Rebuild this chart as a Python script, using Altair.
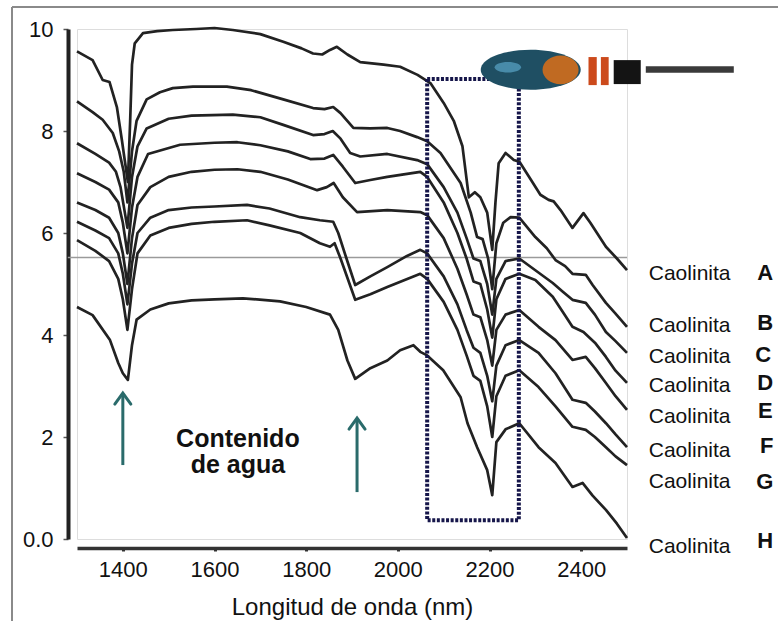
import altair as alt
import pandas as pd

# ---------------- data ----------------
series_names = ["A", "B", "C", "D", "E", "F", "G", "H"]

wl_A = [1300,1334,1356,1371,1387,1398,1403,1411,1416,1420,1426,1444,1475,1509,1560,1600,1640,1700,1750,1790,1815,1835,1852,1867,1890,1918,1969,2005,2043,2071,2100,2122,2141,2155,2168,2180,2195,2206,2213,2220,2235,2253,2265,2290,2311,2329,2340,2355,2381,2405,2420,2454,2478,2500]
rf_A = [9.56,9.39,9.0,8.96,8.47,7.82,7.5,7.0,8.2,9.3,9.72,9.92,9.96,9.98,10.0,10.02,9.98,9.9,9.75,9.62,9.52,9.5,9.59,9.65,9.5,9.35,9.3,9.26,9.1,8.94,8.55,8.2,7.7,6.7,6.8,6.7,6.4,5.67,6.6,7.37,7.57,7.43,7.4,7.05,6.75,6.65,6.62,6.45,6.1,6.39,6.2,5.73,5.5,5.27]

wl_B = [1300,1334,1356,1378,1392,1402,1410,1420,1430,1452,1481,1509,1553,1627,1680,1750,1815,1840,1859,1875,1903,1940,1977,2005,2042,2064,2093,2137,2159,2173,2185,2197,2206,2215,2230,2246,2265,2300,2325,2344,2365,2381,2410,2425,2454,2475,2500]
rf_B = [8.58,8.37,8.22,7.96,7.6,7.2,6.6,7.6,8.2,8.62,8.76,8.84,8.87,8.87,8.8,8.62,8.45,8.43,8.47,8.35,8.06,8.05,8.06,8.0,7.88,7.8,7.57,6.98,6.4,5.92,5.88,5.5,4.9,5.8,6.2,6.31,6.3,5.92,5.7,5.47,5.35,5.2,5.18,4.98,4.63,4.42,4.16]

wl_C = [1300,1340,1370,1385,1395,1410,1420,1432,1452,1500,1550,1640,1700,1750,1815,1840,1858,1875,1896,1918,1977,2042,2064,2100,2130,2150,2165,2180,2195,2206,2215,2235,2265,2300,2338,2360,2381,2410,2430,2454,2475,2500]
rf_C = [7.76,7.55,7.38,7.2,6.9,6.1,7.1,7.7,8.05,8.24,8.3,8.32,8.27,8.12,7.92,7.94,8.0,7.85,7.57,7.5,7.55,7.43,7.35,6.9,6.4,5.9,5.5,5.45,5.0,4.4,5.1,5.45,5.5,5.27,5.02,4.85,4.69,4.63,4.4,4.06,3.88,3.65]

wl_D = [1300,1340,1370,1390,1400,1410,1420,1432,1455,1525,1600,1650,1700,1760,1809,1840,1859,1880,1907,1940,1977,2049,2064,2100,2130,2150,2165,2180,2195,2206,2215,2235,2265,2300,2338,2360,2381,2405,2430,2454,2475,2500]
rf_D = [7.17,7.0,6.85,6.6,6.2,5.6,6.5,7.1,7.55,7.73,7.77,7.78,7.72,7.6,7.45,7.46,7.53,7.3,6.98,7.04,7.1,7.2,7.1,6.6,6.0,5.5,5.05,5.0,4.5,3.95,4.7,5.1,5.2,5.08,4.75,4.45,4.16,4.06,3.85,3.57,3.3,3.06]

wl_E = [1300,1340,1370,1390,1400,1410,1420,1432,1460,1500,1550,1600,1650,1700,1760,1824,1845,1860,1880,1911,1977,2049,2064,2100,2130,2150,2165,2180,2195,2206,2215,2235,2265,2307,2344,2381,2410,2430,2454,2475,2500]
rf_E = [6.6,6.45,6.3,6.0,5.6,5.0,5.9,6.55,6.9,7.1,7.2,7.24,7.25,7.2,7.05,6.84,6.9,6.98,6.7,6.41,6.45,6.41,6.35,5.9,5.3,4.8,4.4,4.35,3.9,3.4,4.1,4.4,4.49,4.16,3.9,3.51,3.57,3.35,3.06,2.8,2.53]

wl_F = [1300,1340,1370,1390,1400,1410,1420,1432,1460,1500,1550,1600,1671,1720,1787,1830,1859,1870,1889,1907,1940,1977,2020,2049,2064,2100,2130,2150,2165,2180,2195,2206,2215,2235,2265,2307,2344,2381,2410,2430,2454,2475,2500]
rf_F = [6.22,6.05,5.9,5.6,5.2,4.6,5.4,6.0,6.3,6.45,6.5,6.52,6.55,6.48,6.31,6.25,6.22,6.0,5.47,4.98,5.15,5.33,5.55,5.67,5.6,5.15,4.6,4.1,3.75,3.65,3.2,2.7,3.4,3.8,3.9,3.65,3.25,2.73,2.67,2.5,2.27,2.05,1.8]

wl_G = [1300,1340,1370,1390,1400,1410,1420,1432,1460,1500,1550,1600,1671,1720,1787,1830,1852,1862,1875,1907,1940,1977,2049,2064,2100,2130,2150,2165,2180,2195,2206,2215,2235,2265,2307,2344,2381,2410,2430,2454,2475,2500]
rf_G = [5.86,5.65,5.45,5.1,4.7,4.1,4.9,5.6,5.95,6.1,6.18,6.22,6.25,6.15,6.0,5.8,5.73,5.8,5.5,4.69,4.8,4.94,5.2,5.1,4.65,4.1,3.6,3.2,3.1,2.6,2.0,2.8,3.2,3.31,2.98,2.6,2.2,2.14,2.0,1.8,1.62,1.45]

wl_H = [1300,1334,1372,1390,1400,1411,1420,1430,1460,1500,1550,1600,1662,1743,1800,1852,1870,1890,1907,1940,1977,2005,2034,2049,2064,2099,2137,2152,2173,2195,2206,2215,2235,2265,2307,2344,2381,2403,2425,2454,2478,2500]
rf_H = [4.55,4.39,3.9,3.45,3.25,3.12,3.8,4.3,4.5,4.62,4.68,4.7,4.72,4.66,4.55,4.4,4.1,3.5,3.14,3.35,3.5,3.7,3.8,3.67,3.6,3.31,2.78,2.27,1.8,1.35,0.86,1.9,2.15,2.27,1.8,1.49,1.02,1.1,0.85,0.57,0.3,0.02]

series_wl = [wl_A, wl_B, wl_C, wl_D, wl_E, wl_F, wl_G, wl_H]
series_rf = [rf_A, rf_B, rf_C, rf_D, rf_E, rf_F, rf_G, rf_H]

x_ticks = [1400, 1600, 1800, 2000, 2200, 2400]
y_ticks = [0, 2, 4, 6, 8, 10]

# reference horizontal line
ref_wl = [1280]
ref_wl2 = [2500]
ref_v = [5.52]

# dotted box (kaolinite doublet region)
box_wl = [2064]
box_wl2 = [2264]
box_v = [0.37]
box_v2 = [9.02]

# water arrows
arrow_wl = [1400, 1911]
arrow_from = [1.45, 0.92]
arrow_to = [2.86, 2.37]

# annotation text
note_wl = [1651, 1651]
note_v = [1.80, 1.29]
note_text = ["Contenido", "de agua"]

# right-hand labels
caol_wl = [2547.5] * 8
caol_v = [5.08, 4.06, 3.45, 2.88, 2.27, 1.61, 1.0, -0.27]
letter_wl = [2784, 2784, 2780, 2784, 2786, 2790, 2782, 2784]
letter_v = [5.08, 4.1, 3.47, 2.92, 2.37, 1.69, 0.98, -0.18]

# logo pieces
logo_oval_wl = [2290]
logo_oval_v = [9.2]
logo_orange_wl = [2355]
logo_orange_v = [9.2]
logo_hi_wl = [2240]
logo_hi_v = [9.25]
logo_bar_wl = [2416, 2443, 2471, 2541]
logo_bar_wl2 = [2434, 2460, 2530, 2733]
logo_bar_v = [8.9, 8.9, 8.92, 9.14]
logo_bar_v2 = [9.45, 9.45, 9.39, 9.27]
logo_bar_col = ["#cc4a1c", "#cc4a1c", "#141414", "#3a3a3a"]

# ---------------- tables ----------------
rows = []
for name, wls, rfs in zip(series_names, series_wl, series_rf):
    for i, (w, r) in enumerate(zip(wls, rfs)):
        rows.append({"wl": w, "v": r, "serie": name, "ord": i})
curves_df = pd.DataFrame(rows)

FONT = "Liberation Sans"
INK = "#111111"

xscale = alt.Scale(domain=[1300, 2500], nice=False, zero=False)
yscale = alt.Scale(domain=[0, 10], nice=False, zero=False)

xaxis = alt.Axis(values=x_ticks, format="d", title="Longitud de onda (nm)",
                 titleFontSize=24, titleFontWeight="normal", titleColor=INK,
                 titleFont=FONT, titleBaseline="alphabetic", titleY=66,
                 labelFont=FONT, labelFontSize=22, labelColor=INK,
                 labelBaseline="alphabetic", labelPadding=25,
                 tickSize=3, tickWidth=3, tickColor="#333333",
                 domainColor="#333333", domainWidth=3.5, offset=9,
                 grid=False, labelFlush=False, labelOverlap=False)
yaxis = alt.Axis(values=y_ticks, labelExpr="datum.value == 0 ? '0.0' : datum.label",
                 title=None, labelFont=FONT, labelFontSize=22, labelColor=INK,
                 labelPadding=10, tickSize=5, tickWidth=1.5, tickColor="#555555",
                 domainColor="#222222", domainWidth=4, offset=9, grid=False)

X = alt.X("wl:Q", scale=xscale, axis=xaxis)
Y = alt.Y("v:Q", scale=yscale, axis=yaxis)

one = pd.DataFrame({"k": [0]})

frame_top = alt.Chart(one).mark_rule(color="#8a8a8a", strokeWidth=2).encode(
    x=alt.value(-65), x2=alt.value(701), y=alt.value(-22))
frame_left = alt.Chart(one).mark_rule(color="#8a8a8a", strokeWidth=2).encode(
    x=alt.value(-65), y=alt.value(-22), y2=alt.value(592))

ref_line = alt.Chart(pd.DataFrame({"wl": ref_wl, "wl2": ref_wl2, "v": ref_v})).mark_rule(
    color="#9a9a9a", strokeWidth=1.5).encode(x=X, x2="wl2:Q", y=Y)

curves = alt.Chart(curves_df).mark_line(color="#222222", strokeWidth=2.7,
                                        strokeJoin="round").encode(
    x=X, y=Y, detail="serie:N", order="ord:Q")

box = alt.Chart(pd.DataFrame({"wl": box_wl, "wl2": box_wl2, "v": box_v, "v2": box_v2})).mark_rect(
    fillOpacity=0, stroke="#16164a", strokeWidth=4, strokeDash=[3, 1.6]).encode(
    x=X, x2="wl2:Q", y=Y, y2="v2:Q")

arrows_df = pd.DataFrame({"wl": arrow_wl, "v": arrow_from, "v2": arrow_to})
TEAL = "#2a6b6b"
arrow_shaft = alt.Chart(arrows_df).mark_rule(color=TEAL, strokeWidth=3).encode(
    x=X, y=Y, y2="v2:Q")
arrow_head = alt.Chart(pd.DataFrame({"wl": arrow_wl, "v": arrow_to})).mark_point(
    shape="M-0.4,0.55L0,0L0.4,0.55", filled=False, size=1600, stroke=TEAL,
    strokeWidth=3, opacity=1, strokeCap="round").encode(x=X, y=Y)

notes = alt.Chart(pd.DataFrame({"wl": note_wl, "v": note_v, "t": note_text})).mark_text(
    font=FONT, fontSize=25, fontWeight="bold", color=INK, align="center",
    baseline="alphabetic").encode(x=X, y=Y, text="t:N")

caol = alt.Chart(pd.DataFrame({"wl": caol_wl, "v": caol_v, "t": ["Caolinita"] * 8})).mark_text(
    font=FONT, fontSize=21, color=INK, align="left", baseline="alphabetic").encode(
    x=X, y=Y, text="t:N")
letters = alt.Chart(pd.DataFrame({"wl": letter_wl, "v": letter_v, "t": series_names})).mark_text(
    font=FONT, fontSize=22, fontWeight="bold", color=INK, align="left",
    baseline="alphabetic").encode(x=X, y=Y, text="t:N")

ELLIPSE = "M-1,0C-1,-0.22,-0.55,-0.4,0,-0.4C0.55,-0.4,1,-0.22,1,0C1,0.22,0.55,0.4,0,0.4C-0.55,0.4,-1,0.22,-1,0Z"
ELLIPSE2 = "M-1,0C-1,-0.44,-0.55,-0.8,0,-0.8C0.55,-0.8,1,-0.44,1,0C1,0.44,0.55,0.8,0,0.8C-0.55,0.8,-1,0.44,-1,0Z"
logo_oval = alt.Chart(pd.DataFrame({"wl": logo_oval_wl, "v": logo_oval_v})).mark_point(
    shape=ELLIPSE, filled=True, size=10000, color="#1f4f63", opacity=1).encode(x=X, y=Y)
logo_orange = alt.Chart(pd.DataFrame({"wl": logo_orange_wl, "v": logo_orange_v})).mark_point(
    shape=ELLIPSE2, filled=True, size=1300, color="#c06a22", opacity=1).encode(x=X, y=Y)
logo_hi = alt.Chart(pd.DataFrame({"wl": logo_hi_wl, "v": logo_hi_v})).mark_point(
    shape=ELLIPSE, filled=True, size=700, color="#5aa5c8", opacity=0.7).encode(x=X, y=Y)
logo_bars = alt.Chart(pd.DataFrame({"wl": logo_bar_wl, "wl2": logo_bar_wl2, "v": logo_bar_v,
                                    "v2": logo_bar_v2, "c": logo_bar_col})).mark_rect().encode(
    x=X, x2="wl2:Q", y=Y, y2="v2:Q", color=alt.Color("c:N", scale=None))

chart = alt.layer(
    frame_top, frame_left, ref_line, curves, box, arrow_shaft, arrow_head,
    notes, caol, letters, logo_oval, logo_hi, logo_orange, logo_bars
).properties(
    width=550, height=510,
    padding={"left": 77, "top": 29, "right": 151, "bottom": 82},
    autosize=alt.AutoSizeParams(type="none"),
    background="white",
).configure_view(strokeWidth=0).configure(font=FONT)

chart.save("out.html", embed_options={"renderer": "svg", "actions": False})
